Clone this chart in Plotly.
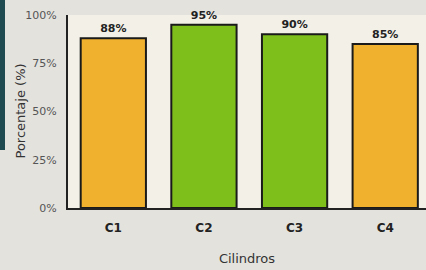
import plotly.graph_objects as go

categories = ["C1", "C2", "C3", "C4"]
values = [88, 95, 90, 85]
labels = ["88%", "95%", "90%", "85%"]
colors = ["#f0b22e", "#7fbf1c", "#7fbf1c", "#f0b22e"]
tick_vals = [0, 25, 50, 75, 100]
tick_text = ["0%", "25%", "50%", "75%", "100%"]

fig = go.Figure(go.Bar(
    x=categories, y=values,
    marker=dict(color=colors, line=dict(color="#1a1a1a", width=2)),
    text=labels, textposition="outside",
    textfont=dict(family="DejaVu Sans", size=11, color="#222"),
    texttemplate="<b>%{text}</b>",
    cliponaxis=False,
    width=0.72,
))

fig.update_layout(
    width=426, height=270,
    margin=dict(l=68, r=0, t=15, b=62),
    paper_bgcolor="#e3e2dd",
    plot_bgcolor="#f2f0e7",
    showlegend=False,
    font=dict(family="DejaVu Sans", color="#333"),
    xaxis=dict(
        range=[-0.5, 3.45],
        showline=True, linecolor="#222", linewidth=2,
        ticks="outside", ticklen=8, tickcolor="rgba(0,0,0,0)",
        tickfont=dict(size=12, color="#222"),
        tickvals=categories, ticktext=["<b>%s</b>" % c for c in categories],
        title=dict(text="Cilindros", font=dict(size=13, color="#333"), standoff=19),
        showgrid=False,
    ),
    yaxis=dict(
        range=[0, 100],
        showline=True, linecolor="#222", linewidth=2,
        tickvals=tick_vals, ticktext=tick_text,
        tickfont=dict(size=11, color="#555"),
        ticks="outside", ticklen=7, tickcolor="rgba(0,0,0,0)",
        showgrid=False, zeroline=False,
    ),
    annotations=[dict(text="Porcentaje (%)", xref="paper", yref="paper",
                      x=-48/358, y=0.5, textangle=-90, showarrow=False,
                      xanchor="center", yanchor="middle",
                      font=dict(size=13, color="#333"))],
    shapes=[dict(type="rect", xref="paper", yref="paper",
                 x0=-68/358, x1=-63/358, y0=(270-62-150)/193, y1=(270-62)/193 + 0.1,
                 fillcolor="#1f4a4f", line=dict(width=0), layer="above")],
)

fig.write_html("out.html", config={"displayModeBar": False},
               post_script="document.body.style.margin='0';document.body.style.background='#e3e2dd';")
